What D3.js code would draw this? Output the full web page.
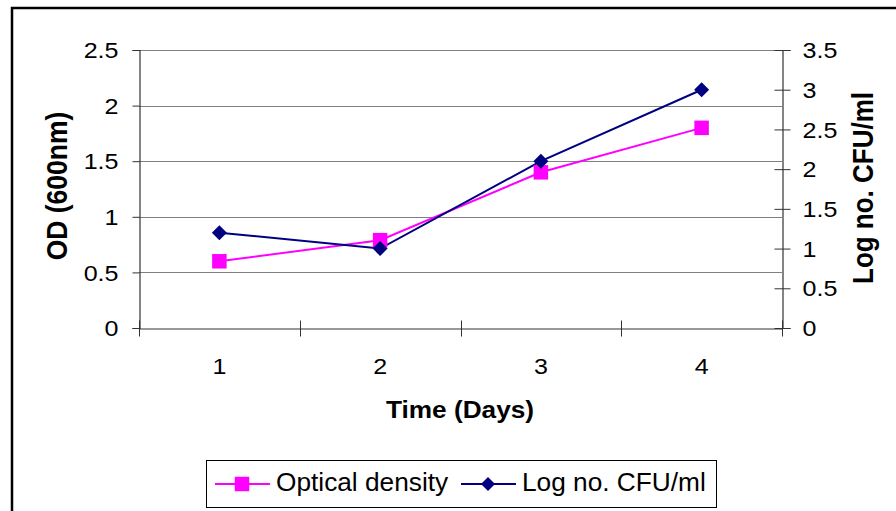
<!DOCTYPE html>
<html>
<head>
<meta charset="utf-8">
<script src="https://cdn.jsdelivr.net/npm/d3@7"></script>
<style>
  body { margin: 0; background: #fff; }
  svg text { font-family: "Liberation Sans", Arial, sans-serif; fill: #000; }
</style>
</head>
<body>
<script>
//data
var days = ['1', '2', '3', '4'];
var opticalDensity = [0.6, 0.79, 1.4, 1.8];
var logCfu = [1.2, 1.0, 2.1, 3.0];
var leftTicks = [0, 0.5, 1, 1.5, 2, 2.5];
var rightTicks = [0, 0.5, 1, 1.5, 2, 2.5, 3, 3.5];

var width = 896, height = 511;
var plot = { left: 139, right: 782, top: 50, bottom: 328 };

// the original picture is a bit wider than tall, so text gets stretched sideways
var stretch = function(sel, k) {
  sel.each(function() {
    var w = this.getComputedTextLength();
    d3.select(this).attr('textLength', w * k).attr('lengthAdjust', 'spacingAndGlyphs');
  });
};

var svg = d3.select('body').append('svg')
  .attr('width', width).attr('height', height);

// outer chart border (only left and top show)
svg.append('rect')
  .attr('x', 12).attr('y', 8)
  .attr('width', width + 20).attr('height', height + 20)
  .attr('fill', 'none').attr('stroke', '#000').attr('stroke-width', 2.5);

var x = d3.scaleBand().domain(days).range([plot.left, plot.right]);
var yLeft = d3.scaleLinear().domain([0, 2.5]).range([plot.bottom, plot.top]);
var yRight = d3.scaleLinear().domain([0, 3.5]).range([plot.bottom, plot.top]);

// gridlines
svg.append('g').selectAll('line')
  .data(leftTicks.slice(1))
  .enter().append('line')
  .attr('x1', plot.left).attr('x2', plot.right)
  .attr('y1', function(d) { return Math.round(yLeft(d)) + 0.5; })
  .attr('y2', function(d) { return Math.round(yLeft(d)) + 0.5; })
  .attr('stroke', '#808080').attr('stroke-width', 1);

// left axis
var leftAxis = svg.append('g')
  .attr('transform', 'translate(' + (plot.left + 0.5) + ',0)')
  .call(d3.axisLeft(yLeft).tickValues(leftTicks).tickSize(7).tickPadding(14)
    .tickFormat(function(d) { return String(d); }));
leftAxis.selectAll('text').style('font-size', '22px').attr('dy', '0.35em')
  .call(stretch, 1.14);

// right axis, ticks cross the line
var rightAxis = svg.append('g')
  .attr('transform', 'translate(' + (plot.right + 0.5) + ',0)')
  .call(d3.axisRight(yRight).tickValues(rightTicks).tickSize(8).tickPadding(12)
    .tickFormat(function(d) { return String(d); }));
rightAxis.selectAll('.tick line').attr('x1', -8);
rightAxis.selectAll('text').style('font-size', '22px').attr('dy', '0.35em')
  .call(stretch, 1.14);

// x axis, ticks on band edges
var xAxis = svg.append('g')
  .attr('transform', 'translate(0,' + (plot.bottom + 0.5) + ')')
  .call(d3.axisBottom(x).tickSize(0));
xAxis.selectAll('text').style('font-size', '22px').attr('y', 45).attr('dy', 0)
  .call(stretch, 1.14);
xAxis.selectAll('.edge')
  .data(days.concat(['end']))
  .enter().append('line')
  .attr('class', 'edge')
  .attr('x1', function(d, i) { return Math.round(plot.left + i * x.step()) + 0.5; })
  .attr('x2', function(d, i) { return Math.round(plot.left + i * x.step()) + 0.5; })
  .attr('y1', -8).attr('y2', 8)
  .attr('stroke', '#333');

svg.selectAll('.domain').attr('stroke', '#333').attr('stroke-width', 1.2);
svg.selectAll('.tick line').attr('stroke', '#333');

// lines
var odLine = d3.line()
  .x(function(d, i) { return x(days[i]) + x.bandwidth() / 2; })
  .y(function(d) { return yLeft(d); });
var cfuLine = d3.line()
  .x(function(d, i) { return x(days[i]) + x.bandwidth() / 2; })
  .y(function(d) { return yRight(d); });

svg.append('path').datum(opticalDensity)
  .attr('d', odLine).attr('fill', 'none')
  .attr('stroke', '#FF00FF').attr('stroke-width', 2);
svg.append('path').datum(logCfu)
  .attr('d', cfuLine).attr('fill', 'none')
  .attr('stroke', '#000080').attr('stroke-width', 2);

var square = d3.symbol().type(d3.symbolSquare).size(210);
var diamond = function(s) {
  return 'M0,' + (-s) + 'L' + s + ',0L0,' + s + 'L' + (-s) + ',0Z';
};

svg.append('g').selectAll('path')
  .data(opticalDensity)
  .enter().append('path')
  .attr('d', square)
  .attr('transform', function(d, i) {
    return 'translate(' + (x(days[i]) + x.bandwidth() / 2) + ',' + yLeft(d) + ')';
  })
  .attr('fill', '#FF00FF');

svg.append('g').selectAll('path')
  .data(logCfu)
  .enter().append('path')
  .attr('d', diamond(7.5))
  .attr('transform', function(d, i) {
    return 'translate(' + (x(days[i]) + x.bandwidth() / 2) + ',' + yRight(d) + ')';
  })
  .attr('fill', '#000080');

// axis titles
svg.append('text')
  .attr('transform', 'translate(67,186) scale(1.14,1) rotate(-90)')
  .attr('text-anchor', 'middle')
  .style('font-size', '26.5px').style('font-weight', 'bold')
  .text('OD (600nm)');
svg.append('text')
  .attr('transform', 'translate(873,188) scale(1.14,1) rotate(-90)')
  .attr('text-anchor', 'middle')
  .style('font-size', '26px').style('font-weight', 'bold')
  .text('Log no. CFU/ml');
svg.append('text')
  .attr('x', 460).attr('y', 418)
  .attr('text-anchor', 'middle')
  .style('font-size', '23px').style('font-weight', 'bold')
  .text('Time (Days)')
  .call(stretch, 1.14);

// legend
var legend = svg.append('g');
legend.append('rect')
  .attr('x', 206.5).attr('y', 460.5)
  .attr('width', 510).attr('height', 47)
  .attr('fill', '#fff').attr('stroke', '#000').attr('stroke-width', 1);

var items = [
  { name: 'Optical density', color: '#FF00FF', x: 215, marker: 'square' },
  { name: 'Log no. CFU/ml', color: '#000080', x: 461, marker: 'diamond' }
];
items.forEach(function(it) {
  legend.append('line')
    .attr('x1', it.x).attr('x2', it.x + 55)
    .attr('y1', 484).attr('y2', 484)
    .attr('stroke', it.color).attr('stroke-width', 2);
  legend.append('path')
    .attr('d', it.marker == 'square' ? square() : diamond(7))
    .attr('transform', 'translate(' + (it.x + 27) + ',484)')
    .attr('fill', it.color);
  legend.append('text')
    .attr('x', it.x + 61).attr('y', 491)
    .style('font-size', '25px')
    .text(it.name)
    .call(stretch, 1.05);
});
</script>
</body>
</html>
